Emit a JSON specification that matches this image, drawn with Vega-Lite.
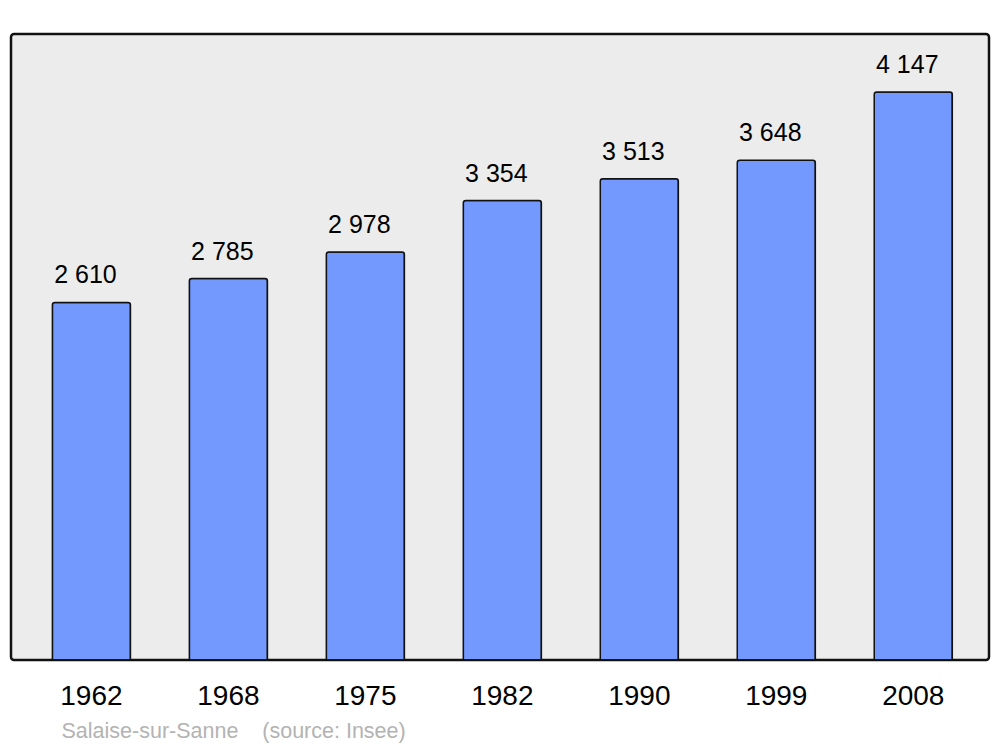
{
  "$schema": "https://vega.github.io/schema/vega-lite/v6.json",
  "width": 978,
  "height": 626,
  "autosize": {"type": "none"},
  "padding": {"left": 11, "top": 34, "right": 11, "bottom": 87},
  "background": "white",
  "config": {
    "view": {"fill": "#ececec", "stroke": "#111111", "strokeWidth": 2.5, "cornerRadius": 3},
    "font": "Liberation Sans"
  },
  "data": {
    "values": [
      {"year": "1962", "pop": 2610, "label": "2 610"},
      {"year": "1968", "pop": 2785, "label": "2 785"},
      {"year": "1975", "pop": 2978, "label": "2 978"},
      {"year": "1982", "pop": 3354, "label": "3 354"},
      {"year": "1990", "pop": 3513, "label": "3 513"},
      {"year": "1999", "pop": 3648, "label": "3 648"},
      {"year": "2008", "pop": 4147, "label": "4 147"}
    ]
  },
  "encoding": {
    "x": {
      "field": "year",
      "type": "ordinal",
      "sort": null,
      "scale": {"paddingInner": 0.43, "paddingOuter": 0.285, "align": 0.53},
      "axis": {
        "title": "Salaise-sur-Sanne\u00a0\u00a0\u00a0\u00a0(source: Insee)",
        "titleFont": "Liberation Sans",
        "titleFontSize": 21.5,
        "titleFontWeight": "normal",
        "titleColor": "#b3b3b3",
        "titleAnchor": "start",
        "titleAlign": "left",
        "titleBaseline": "alphabetic",
        "titleX": 50,
        "titleY": 77,
        "labelAngle": 0,
        "labelFont": "Liberation Sans",
        "labelFontSize": 28,
        "labelColor": "black",
        "labelBaseline": "alphabetic",
        "labelPadding": 44,
        "ticks": false,
        "tickSize": 0,
        "domain": false,
        "grid": false
      }
    },
    "y": {
      "field": "pop",
      "type": "quantitative",
      "scale": {"domain": [0, 4570], "nice": false, "zero": true},
      "axis": null
    }
  },
  "layer": [
    {
      "mark": {
        "type": "bar",
        "fill": "#7399ff",
        "stroke": "#111111",
        "strokeWidth": 1.5,
        "cornerRadiusTopLeft": 2.5,
        "cornerRadiusTopRight": 2.5
      }
    },
    {
      "mark": {
        "type": "text",
        "font": "Liberation Sans",
        "fontSize": 25,
        "color": "black",
        "baseline": "alphabetic",
        "align": "center",
        "dx": -6,
        "dy": -19
      },
      "encoding": {"text": {"field": "label"}}
    }
  ]
}
